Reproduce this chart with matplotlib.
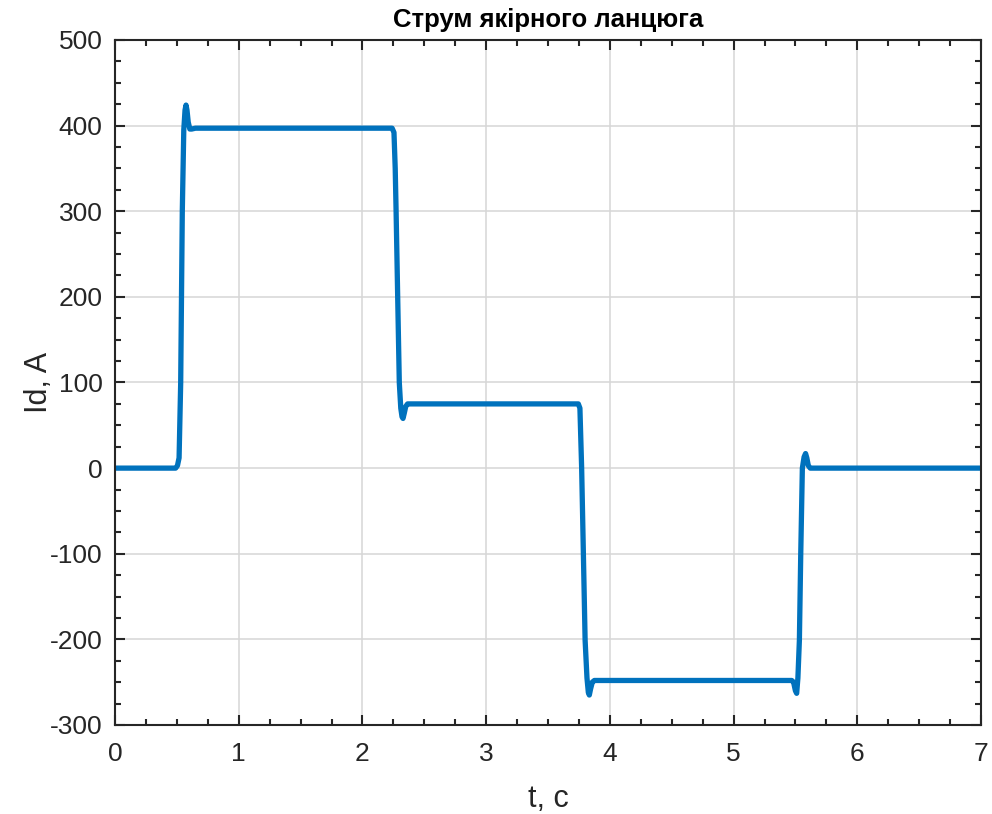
import matplotlib
matplotlib.use("Agg")
import matplotlib.pyplot as plt
from matplotlib.ticker import MultipleLocator

plt.rcParams['font.family'] = ['Liberation Sans', 'DejaVu Sans']
plt.rcParams['axes.unicode_minus'] = False

# Time (s) and armature current (A)
t = [0, 0.49, 0.505, 0.518, 0.531, 0.544, 0.556, 0.566, 0.574, 0.582, 0.592,
     0.605, 0.62, 0.65, 0.7, 2.24, 2.255, 2.265, 2.272, 2.285, 2.298, 2.31,
     2.32, 2.328, 2.338, 2.35, 2.365, 2.385, 2.42, 3.745, 3.758, 3.772, 3.786,
     3.80, 3.815, 3.826, 3.834, 3.844, 3.858, 3.875, 3.9, 3.95, 5.47, 5.485,
     5.5, 5.51, 5.52, 5.532, 5.543, 5.556, 5.57, 5.582, 5.592, 5.604, 5.62,
     5.65, 7]
Id = [0, 0, 3, 12, 100, 300, 395, 418, 424, 418, 404,
      396, 396, 397, 397, 397, 392, 350, 301, 200, 100, 70,
      60, 58, 64, 72, 75, 75, 75, 75, 70, 0, -100,
      -201, -245, -262, -265, -258, -250, -248, -248, -248, -248, -250,
      -260, -263, -245, -201, -100, 0, 13, 17, 12, 3, 0,
      0, 0]

title = "Струм якірного ланцюга"
xlabel = "t, c"
ylabel = "Id, A"

fig = plt.figure(figsize=(9.92, 8.14), dpi=100)
ax = fig.add_axes([115/992, 1-725/814, (981-115)/992, (725-40)/814])

ax.plot(t, Id, color='#0072BD', linewidth=3.8, solid_joinstyle='round')

ax.set_xlim(0, 7)
ax.set_ylim(-300, 500)
ax.xaxis.set_major_locator(MultipleLocator(1))
ax.xaxis.set_minor_locator(MultipleLocator(0.25))
ax.yaxis.set_major_locator(MultipleLocator(100))
ax.yaxis.set_minor_locator(MultipleLocator(25))

ax.grid(True, which='major', color='#d6d6d6', linewidth=1.1)
ax.set_axisbelow(True)

for s in ax.spines.values():
    s.set_linewidth(1.5)
    s.set_color('#262626')

ax.tick_params(which='both', direction='in', top=True, right=True,
               colors='#262626', labelsize=19)
ax.tick_params(axis='x', which='major', pad=12)
ax.tick_params(axis='y', which='major', pad=9)
ax.tick_params(which='major', length=7, width=1.5)
ax.tick_params(which='minor', length=4, width=1.5)

ax.set_xlabel(xlabel, fontsize=22, color='#262626', labelpad=13)
ax.set_ylabel(ylabel, fontsize=22, color='#262626', labelpad=-3)
ax.set_title(title, fontsize=18.5, fontweight='bold', pad=9)

fig.savefig('out.png', dpi=100)
